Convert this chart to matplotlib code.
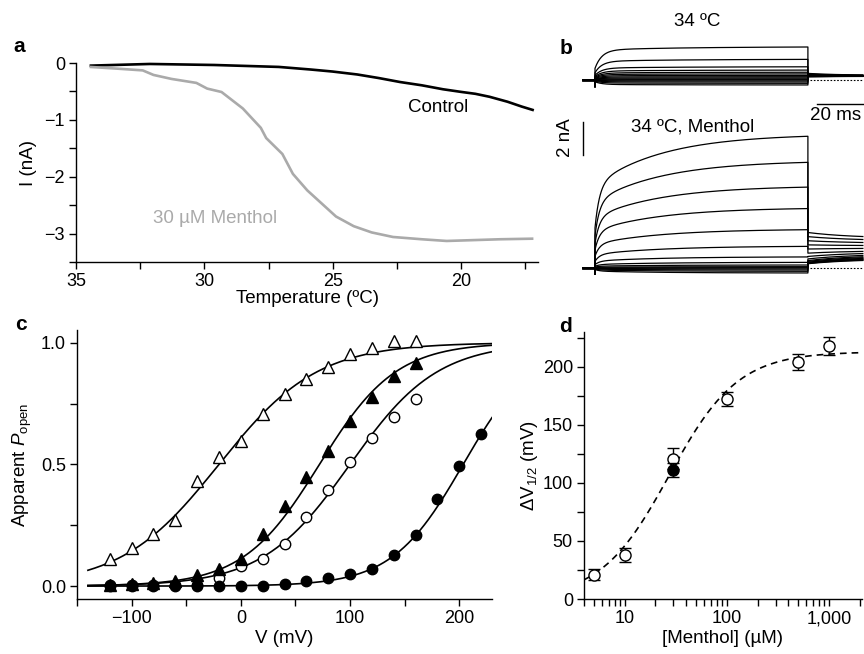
import numpy as np
import matplotlib
matplotlib.use("Agg")
import matplotlib.pyplot as plt
from matplotlib.ticker import FixedLocator, FixedFormatter, NullFormatter

plt.rcParams['font.family'] = ['Liberation Sans', 'DejaVu Sans']
plt.rcParams['font.size'] = 13.5
plt.rcParams['xtick.labelsize'] = 13
plt.rcParams['ytick.labelsize'] = 13
plt.rcParams['mathtext.fontset'] = 'custom'
plt.rcParams['mathtext.rm'] = 'Liberation Sans'
plt.rcParams['mathtext.it'] = 'Liberation Sans:italic'
plt.rcParams['axes.linewidth'] = 1.0

# ---- panel a: current vs temperature ----
temp_ctrl = [34.42, 32.12, 29.61, 27.10, 25.85, 25.01, 24.04, 23.20, 22.37,
             21.53, 20.70, 20.00, 19.44, 18.89, 18.19, 17.63, 17.21]
i_ctrl = [-0.046, -0.017, -0.035, -0.069, -0.115, -0.150, -0.202, -0.265, -0.335,
          -0.392, -0.462, -0.508, -0.542, -0.594, -0.681, -0.767, -0.825]
temp_menth = [34.42, 33.37, 32.40, 31.98, 31.28, 30.31, 29.89, 29.33, 28.50, 27.80,
              27.59, 26.96, 26.55, 25.99, 25.43, 24.87, 24.18, 23.48, 22.65, 21.53,
              20.56, 19.86, 18.47, 17.23]
i_menth = [-0.07, -0.10, -0.13, -0.21, -0.28, -0.35, -0.45, -0.51, -0.80, -1.14,
           -1.32, -1.60, -1.95, -2.24, -2.47, -2.70, -2.87, -2.98, -3.06, -3.10,
           -3.13, -3.12, -3.10, -3.09]

# ---- panel b: current traces (nA), one value per voltage step ----
t_pre, t_pulse, t_stop = -5.2, 92.6, 116.5   # ms
top_iss = [2.0, 1.25, 0.8, 0.6, 0.47, 0.37, 0.28, 0.2, 0.13, 0.07, 0.02, -0.05, -0.12, -0.2, -0.3]
top_tail0 = [0.4, 0.36, 0.33, 0.31, 0.29, 0.28, 0.27, 0.26, 0.25, 0.24, 0.23, 0.22, 0.21, 0.2, 0.2]
top_tail1 = [0.28, 0.27, 0.27, 0.26, 0.26, 0.25, 0.25, 0.25, 0.24, 0.24, 0.24, 0.23, 0.23, 0.23, 0.22]
bot_iss = [7.98, 6.4, 4.9, 3.6, 2.32, 1.31, 0.67, 0.34, 0.18, 0.08, 0.02, -0.05, -0.12, -0.2, -0.3]
bot_tail0 = [2.15, 1.9, 1.65, 1.4, 1.15, 0.9, 0.7, 0.55, 0.45, 0.4, 0.35, 0.32, 0.3, 0.28, 0.26]
bot_tail1 = [1.8, 1.65, 1.5, 1.35, 1.2, 1.05, 0.95, 0.85, 0.78, 0.72, 0.68, 0.64, 0.6, 0.57, 0.54]
# kinetics: instantaneous fraction, fast tau, slow fraction, slow tau, tail tau, capacitive dip
top_kin = (0.35, 3.0, 0.1, 40.0, 15.0, -0.4)
bot_kin = (0.3, 2.0, 0.38, 30.0, 20.0, -0.35)

# ---- panel c: G-V data ----
volts = [-120, -100, -80, -60, -40, -20, 0, 20, 40, 60, 80, 100, 120, 140, 160]
p_open_tri = [0.112, 0.157, 0.214, 0.27, 0.43, 0.53, 0.594, 0.706, 0.788, 0.85,
              0.90, 0.952, 0.98, 1.007, 1.007]
p_fill_tri = [0.004, 0.007, 0.011, 0.02, 0.044, 0.071, 0.112, 0.212, 0.328, 0.45,
              0.553, 0.68, 0.775, 0.863, 0.918]
p_open_circ = [0.004, 0.004, 0.004, 0.005, 0.006, 0.034, 0.082, 0.112, 0.173, 0.284,
               0.396, 0.508, 0.61, 0.693, 0.768]
volts_fc = [-120, -100, -80, -60, -40, -20, 0, 20, 40, 60, 80, 100, 120, 140, 160, 180, 200, 220]
p_fill_circ = [0.0, 0.0, 0.0, 0.0, 0.0, 0.0, 0.0, 0.0, 0.007, 0.019, 0.034, 0.05,
               0.071, 0.126, 0.208, 0.358, 0.492, 0.624]
# Boltzmann fits (V1/2, slope) in mV
fit_open_tri = (-20, 45)
fit_fill_tri = (72, 35)
fit_open_circ = (100, 40)
fit_fill_circ = (203.6, 32.6)

# ---- panel d: dose response ----
conc = [5, 10, 30, 100, 500, 1000]
dv_half = [21, 38, 121, 172, 204, 218]
dv_err = [5, 6, 9, 6, 7, 8]
conc_fill, dv_fill, err_fill = [30], [111], [6]
hill_top, hill_ec50, hill_n = 213, 27.3, 1.29

W, H = 864, 654
fig = plt.figure(figsize=(W / 100, H / 100), dpi=100)


def px_axes(l, t, r, b):
    return fig.add_axes([l / W, 1 - b / H, (r - l) / W, (b - t) / H])


def fig_text(x, y, s, **kw):
    fig.text(x / W, 1 - y / H, s, ha='center', va='center', **kw)


def style(ax):
    for side in ('top', 'right'):
        ax.spines[side].set_visible(False)
    ax.tick_params(which='both', direction='out', length=5, width=1.0, pad=3)


# panel a
ax_a = px_axes(76, 63, 538, 262)
ax_a.plot(temp_ctrl, i_ctrl, color='black', lw=1.9, clip_on=False)
ax_a.plot(temp_menth, i_menth, color='#aaaaaa', lw=1.9, clip_on=False)
ax_a.set_xlim(35, 17)
ax_a.set_ylim(-3.5, 0)
ax_a.xaxis.set_major_locator(FixedLocator([35, 30, 25, 20]))
ax_a.xaxis.set_minor_locator(FixedLocator([32.5, 27.5, 22.5, 17.5]))
ax_a.yaxis.set_major_locator(FixedLocator([0, -1, -2, -3]))
ax_a.yaxis.set_minor_locator(FixedLocator([-0.5, -1.5, -2.5, -3.5]))
ax_a.set_xlabel('Temperature (ºC)', labelpad=0)
ax_a.set_ylabel('I (nA)', labelpad=5)
ax_a.text(20.9, -0.78, 'Control', ha='center', va='center')
ax_a.text(29.6, -2.73, '30 µM Menthol', ha='center', va='center', color='#aaaaaa')
style(ax_a)


# panel b
def trace(iss, tail0, tail1, kin):
    inst, tau_f, slow, tau_s, tau_tail, dip = kin
    t1 = np.linspace(0, t_pulse, 400)
    rise = inst + (1 - inst - slow) * (1 - np.exp(-t1 / tau_f)) + slow * (1 - np.exp(-t1 / tau_s))
    i1 = iss * rise / rise[-1]
    t2 = np.linspace(t_pulse, t_stop, 120)
    i2 = tail1 + (tail0 - tail1) * np.exp(-(t2 - t_pulse) / tau_tail)
    t = np.concatenate([[t_pre, 0, 0], t1, t2])
    i = np.concatenate([[0, 0, dip], i1, i2])
    return t, i


ax_b1 = px_axes(575, 30, 864, 92)
ax_b2 = px_axes(575, 95, 864, 285)
for ax, iss_list, t0_list, t1_list, kin in ((ax_b1, top_iss, top_tail0, top_tail1, top_kin),
                                            (ax_b2, bot_iss, bot_tail0, bot_tail1, bot_kin)):
    for iss, a0, a1 in zip(iss_list, t0_list, t1_list):
        t, i = trace(iss, a0, a1, kin)
        ax.plot(t, i, color='black', lw=0.9)
    ax.plot([t_pulse + 1, t_stop], [0, 0], color='black', lw=0.8, ls=(0, (1.5, 1.5)))
    ax.plot([t_pre, 0], [0, 0], color='black', lw=2)
    ax.set_xlim(-8.7, 117)
    ax.axis('off')
ax_b1.set_ylim(-0.727, 3.03)
ax_b2.set_ylim(-1.03, 10.48)
# scale bars: 20 ms and 2 nA
ax_b2.plot([96.5, 116.5], [9.94, 9.94], color='black', lw=1.0, clip_on=False)
ax_b2.plot([-5.2, -5.2], [6.85, 8.85], color='black', lw=1.0, clip_on=False)
fig_text(697, 22, '34 ºC')
fig_text(693, 127, '34 ºC, Menthol')
fig_text(836, 116, '20 ms')
fig_text(566, 138, '2 nA', rotation=90)

# panel c
ax_c = px_axes(77, 330, 492, 599)
v_fit = np.linspace(-140, 230, 300)
for v0, k in (fit_open_tri, fit_fill_tri, fit_open_circ, fit_fill_circ):
    ax_c.plot(v_fit, 1 / (1 + np.exp(-(v_fit - v0) / k)), color='black', lw=1.2, zorder=2)
ax_c.plot(volts, p_open_tri, ls='none', marker='^', ms=9, mfc='white', mec='black', mew=1.0, zorder=3)
ax_c.plot(volts, p_open_circ, ls='none', marker='o', ms=7.5, mfc='white', mec='black', mew=1.0, zorder=3)
ax_c.plot(volts, p_fill_tri, ls='none', marker='^', ms=9, mfc='black', mec='black', zorder=4)
ax_c.plot(volts_fc, p_fill_circ, ls='none', marker='o', ms=7.5, mfc='black', mec='black', zorder=5)
ax_c.set_xlim(-150, 230)
ax_c.set_ylim(-0.053, 1.052)
ax_c.xaxis.set_major_locator(FixedLocator([-100, 0, 100, 200]))
ax_c.xaxis.set_minor_locator(FixedLocator([-150, -50, 50, 150]))
ax_c.yaxis.set_major_locator(FixedLocator([0, 0.5, 1.0]))
ax_c.yaxis.set_minor_locator(FixedLocator([0.25, 0.75]))
ax_c.yaxis.set_major_formatter(FixedFormatter(['0.0', '0.5', '1.0']))
ax_c.set_xlabel('V (mV)', labelpad=2)
ax_c.set_ylabel(r'Apparent $\mathit{P}_{\mathregular{open}}$', labelpad=5)
style(ax_c)

# panel d
ax_d = px_axes(584, 332, 862, 599)
c_fit = np.logspace(np.log10(4), np.log10(2100), 300)
ax_d.plot(c_fit, hill_top / (1 + (hill_ec50 / c_fit) ** hill_n), color='black', lw=1.2,
          ls=(0, (4, 3)), zorder=2)
ax_d.errorbar(conc, dv_half, yerr=dv_err, fmt='o', ms=8, mfc='white', mec='black', mew=1.0,
              ecolor='black', elinewidth=1.0, capsize=4, capthick=1.0, zorder=3)
ax_d.errorbar(conc_fill, dv_fill, yerr=err_fill, fmt='o', ms=8, mfc='black', mec='black',
              ecolor='black', elinewidth=1.0, capsize=4, capthick=1.0, zorder=4)
ax_d.set_xscale('log')
ax_d.set_xlim(4, 2100)
ax_d.set_ylim(0, 230)
ax_d.xaxis.set_major_locator(FixedLocator([10, 100, 1000]))
ax_d.xaxis.set_major_formatter(FixedFormatter(['10', '100', '1,000']))
minor_d = [m * 10 ** e for e in range(0, 4) for m in range(2, 10) if 4 <= m * 10 ** e <= 2100]
ax_d.xaxis.set_minor_locator(FixedLocator(minor_d))
ax_d.xaxis.set_minor_formatter(NullFormatter())
ax_d.yaxis.set_major_locator(FixedLocator([0, 50, 100, 150, 200]))
ax_d.yaxis.set_minor_locator(FixedLocator([25, 75, 125, 175, 225]))
ax_d.set_xlabel('[Menthol] (µM)', labelpad=2)
ax_d.set_ylabel(r'$\mathregular{\Delta V_{1/2}}$ (mV)', labelpad=2)
style(ax_d)

# panel letters
for x, y, s in ((19, 47, 'a'), (566, 49, 'b'), (21, 325, 'c'), (566, 326, 'd')):
    fig_text(x, y, s, fontweight='bold', fontsize=15)

fig.savefig('out.png', dpi=100)
